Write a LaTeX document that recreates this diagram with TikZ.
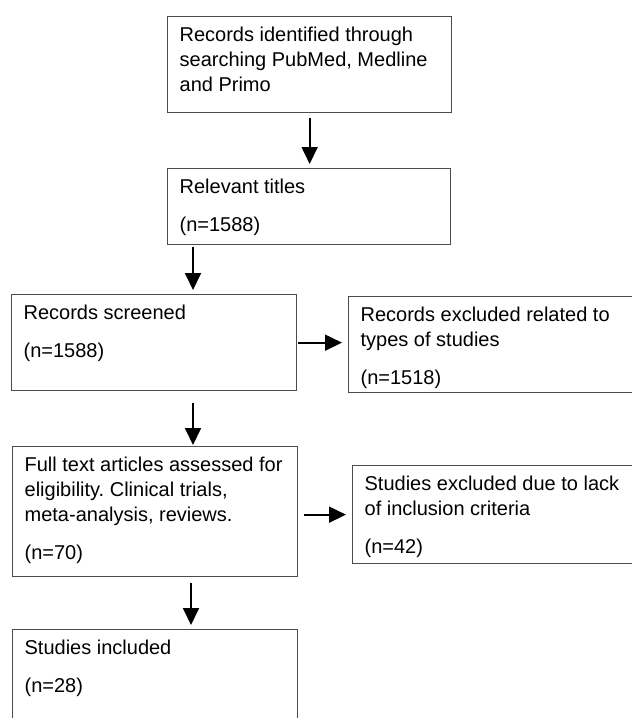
\documentclass[tikz,border=0pt]{standalone}
\usepackage{fontspec}
\setmainfont{Liberation Sans}
\usepackage{tikz}
\usetikzlibrary{arrows.meta}
\frenchspacing

\newcommand{\boxtext}[3]{\parbox[c][#2][t]{#1}{\leftskip=12pt\rightskip=0pt plus 1fil\parindent=0pt\vspace*{10pt}#3}}

\begin{document}
\begin{tikzpicture}[x=1pt, y=-1pt,
        flowbox/.style={draw=black!70, line width=1.3pt, rectangle, anchor=north west, inner sep=0pt, font=\fontsize{20}{25}\selectfont},
        flowarrow/.style={-{Triangle[length=17pt,width=16pt]}, line width=1.8pt}]
            \useasboundingbox (0, 0) rectangle (632, 718);
            \clip (0, 0) rectangle (632, 718);
            \node [flowbox] (ident) at (167, 16) {\boxtext{284pt}{96pt}{Records identified through\\ searching PubMed, Medline\\ and Primo}};
            \node [flowbox] (titles) at (167, 168) {\boxtext{283pt}{76pt}{Relevant titles\\[13pt] (n=1588)}};
            \node [flowbox] (screened) at (11, 294) {\boxtext{285pt}{96pt}{Records screened\\[13pt] (n=1588)}};
            \node [flowbox] (types) at (348, 296) {\boxtext{292pt}{96pt}{Records excluded related to\\ types of studies\\[13pt] (n=1518)}};
            \node [flowbox] (fulltext) at (12, 446) {\boxtext{285pt}{130pt}{Full text articles assessed for\\ eligibility. Clinical trials,\\ meta-analysis, reviews.\\[13pt] (n=70)}};
            \node [flowbox] (lack) at (352, 465) {\boxtext{288pt}{98pt}{Studies excluded due to lack\\ of inclusion criteria\\[13pt] (n=42)}};
            \node [flowbox] (included) at (12, 629) {\boxtext{285pt}{101pt}{Studies included\\[13pt] (n=28)}};
            % arrows
            \draw [flowarrow, shorten <=5pt, shorten >=4pt] (ident.south) -- (ident.south |- titles.north);
            \draw [flowarrow, shorten <=2pt, shorten >=4pt] ([xshift=26pt]titles.south west) -- ([xshift=182pt]screened.north west);
            \draw [flowarrow, shorten <=1pt, shorten >=6pt] (screened.east) -- (screened.east -| types.west);
            \draw [flowarrow, shorten <=12pt, shorten >=1pt] ([xshift=182pt]screened.south west) -- ([xshift=181pt]fulltext.north west);
            \draw [flowarrow, shorten <=6pt, shorten >=6pt] (lack.west -| fulltext.east) -- (lack.west);
            \draw [flowarrow, shorten <=6pt, shorten >=4pt] ([xshift=179pt]fulltext.south west) -- ([xshift=179pt]included.north west);
        \end{tikzpicture}
\end{document}
